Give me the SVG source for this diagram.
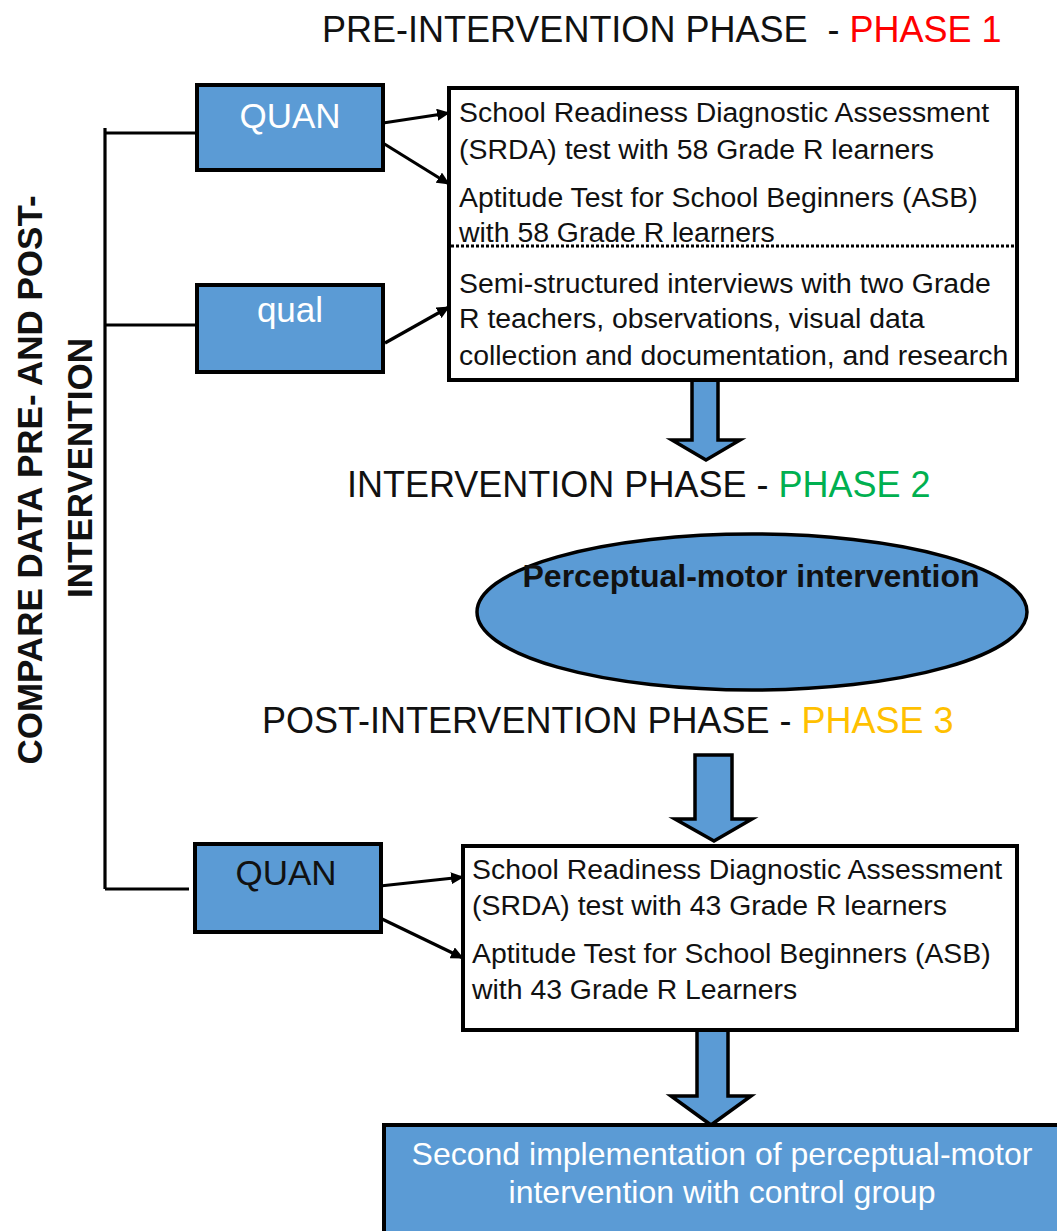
<svg xmlns="http://www.w3.org/2000/svg" width="1057" height="1231" viewBox="0 0 1057 1231">
<defs>
<style>
.t{font-family:"Liberation Sans",Arial,sans-serif;fill:#111}
.title{font-size:36px}
.box{fill:#fff;stroke:#000;stroke-width:4}
.blue{fill:#5B9BD5;stroke:#000;stroke-width:4}
.body{font-size:28.4px}
.lbl{font-size:35px;text-anchor:middle}
.conn{stroke:#000;stroke-width:3.2;fill:none}
.barrow{fill:#5B9BD5;stroke:#000;stroke-width:3.5;stroke-linejoin:miter}
</style>
<marker id="ah" markerUnits="userSpaceOnUse" markerWidth="14" markerHeight="12" refX="12" refY="6" orient="auto">
<path d="M0,0 L13,6 L0,12 Z" fill="#000"/>
</marker>
</defs>
<rect width="1057" height="1231" fill="#fff"/>

<g id="titles">
<text class="t title" x="322" y="42">PRE-INTERVENTION PHASE&#160; - <tspan fill="#FF0000">PHASE 1</tspan></text>
<text class="t title" x="347" y="497">INTERVENTION PHASE - <tspan fill="#00B050">PHASE 2</tspan></text>
<text class="t title" x="262" y="733">POST-INTERVENTION PHASE - <tspan fill="#FFC000">PHASE 3</tspan></text>
</g>

<g id="compare-label">
<text class="t" font-weight="bold" font-size="35" text-anchor="middle" transform="translate(42,480) rotate(-90)">COMPARE DATA PRE- AND POST-</text>
<text class="t" font-weight="bold" font-size="35" text-anchor="middle" transform="translate(92,468) rotate(-90)">INTERVENTION</text>
</g>

<g id="connectors">
<path class="conn" d="M105,128 V889"/>
<path class="conn" d="M105,133 H197"/>
<path class="conn" d="M105,325 H197"/>
<path class="conn" d="M105,889 H189"/>
<line class="conn" x1="383" y1="123" x2="449" y2="113" marker-end="url(#ah)"/>
<line class="conn" x1="378" y1="140" x2="449" y2="184" marker-end="url(#ah)"/>
<line class="conn" x1="385" y1="343" x2="449" y2="307" marker-end="url(#ah)"/>
<line class="conn" x1="380" y1="886" x2="463" y2="877" marker-end="url(#ah)"/>
<line class="conn" x1="380" y1="918" x2="463" y2="958" marker-end="url(#ah)"/>
<path class="barrow" d="M692,380 H718 V440 H740 L706,460 L672,440 H692 Z"/>
<path class="barrow" d="M695,755 H732 V819 H752 L714,841 L675,819 H695 Z"/>
<path class="barrow" d="M697,1030 H728 V1096 H751 L711,1125 L671,1096 H697 Z"/>
</g>

<g id="quan1">
<rect class="blue" x="197" y="85" width="186" height="85"/>
<text class="t lbl" x="290" y="128" style="fill:#fff">QUAN</text>
</g>

<g id="qual">
<rect class="blue" x="197" y="285" width="186" height="87"/>
<text class="t lbl" x="290" y="322" style="fill:#fff">qual</text>
</g>

<g id="pre-box">
<rect class="box" x="449" y="88" width="568" height="292"/>
<text class="t body" x="459" y="122">School Readiness Diagnostic Assessment</text>
<text class="t body" x="459" y="159">(SRDA) test with 58 Grade R learners</text>
<text class="t body" x="459" y="207">Aptitude Test for School Beginners (ASB)</text>
<text class="t body" x="459" y="242">with 58 Grade R learners</text>
<line x1="451" y1="246" x2="1015" y2="246" stroke="#000" stroke-width="3" stroke-dasharray="3,2"/>
<text class="t body" x="459" y="293">Semi-structured interviews with two Grade</text>
<text class="t body" x="459" y="328">R teachers, observations, visual data</text>
<text class="t body" x="459" y="365">collection and documentation, and research</text>
</g>

<g id="intervention">
<ellipse cx="752" cy="612" rx="275" ry="78" fill="#5B9BD5" stroke="#000" stroke-width="3.5"/>
<text class="t" x="751" y="587" font-size="32" font-weight="bold" text-anchor="middle">Perceptual-motor intervention</text>
</g>

<g id="quan2">
<rect class="blue" x="195" y="844" width="186" height="88"/>
<text class="t lbl" x="286" y="885">QUAN</text>
</g>

<g id="post-box">
<rect class="box" x="463" y="846" width="554" height="184"/>
<text class="t body" x="472" y="879">School Readiness Diagnostic Assessment</text>
<text class="t body" x="472" y="915">(SRDA) test with 43 Grade R learners</text>
<text class="t body" x="472" y="963">Aptitude Test for School Beginners (ASB)</text>
<text class="t body" x="472" y="999">with 43 Grade R Learners</text>
</g>

<g id="second-impl">
<rect class="blue" x="384" y="1125" width="680" height="120"/>
<text class="t" x="722" y="1165" font-size="32" text-anchor="middle" style="fill:#fff">Second implementation of perceptual-motor</text>
<text class="t" x="722" y="1203" font-size="32" text-anchor="middle" style="fill:#fff">intervention with control group</text>
</g>
</svg>
